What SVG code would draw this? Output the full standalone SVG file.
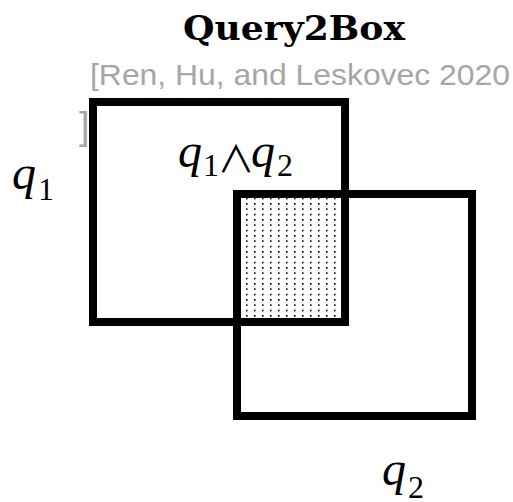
<svg xmlns="http://www.w3.org/2000/svg" width="513" height="502" viewBox="0 0 513 502">
<style>
.box{fill:none;stroke:#000;stroke-width:8}
.qi{font-family:"Liberation Serif","DejaVu Serif",serif;font-style:italic;font-size:48px;fill:#000}
.sub{font-family:"Liberation Serif","DejaVu Serif",serif;font-size:32px;fill:#000}
.gray{font-family:"Liberation Sans",Arial,sans-serif;fill:#a6a6a6}
</style>
<defs>
<pattern id="dots" x="246" y="203" width="8" height="5.333" patternUnits="userSpaceOnUse">
<rect x="0" y="0" width="1.6" height="1.6" fill="#000"/>
</pattern>
</defs>
<rect width="513" height="502" fill="#fff"/>
<text x="294" y="40" text-anchor="middle" font-family="'DejaVu Serif',serif" font-weight="bold" font-size="34" textLength="222" lengthAdjust="spacingAndGlyphs">Query2Box</text>
<text class="gray" x="90" y="85" font-size="30" textLength="420" lengthAdjust="spacingAndGlyphs">[Ren, Hu, and Leskovec 2020</text>
<text class="gray" x="79" y="139" font-size="38">]</text>
<g id="intersection">
<rect x="241" y="198" width="100" height="120" fill="url(#dots)"/>
</g>
<g id="q1box">
<rect class="box" x="93" y="102" width="252" height="220"/>
</g>
<g id="q2box">
<rect class="box" x="237" y="194" width="235" height="222"/>
</g>
<g id="labels">
<text class="qi" x="12" y="189">q</text><text class="sub" x="38" y="200">1</text>
<text class="qi" x="178" y="167">q</text><text class="sub" x="203" y="176">1</text>
<text x="236" y="173" text-anchor="middle" font-family="'Noto Sans CJK SC',sans-serif" font-size="37">∧</text>
<text class="qi" x="251" y="167">q</text><text class="sub" x="277" y="176">2</text>
<text class="qi" x="382" y="485">q</text><text class="sub" x="408" y="498">2</text>
</g>
<g id="connectors"/>
</svg>
